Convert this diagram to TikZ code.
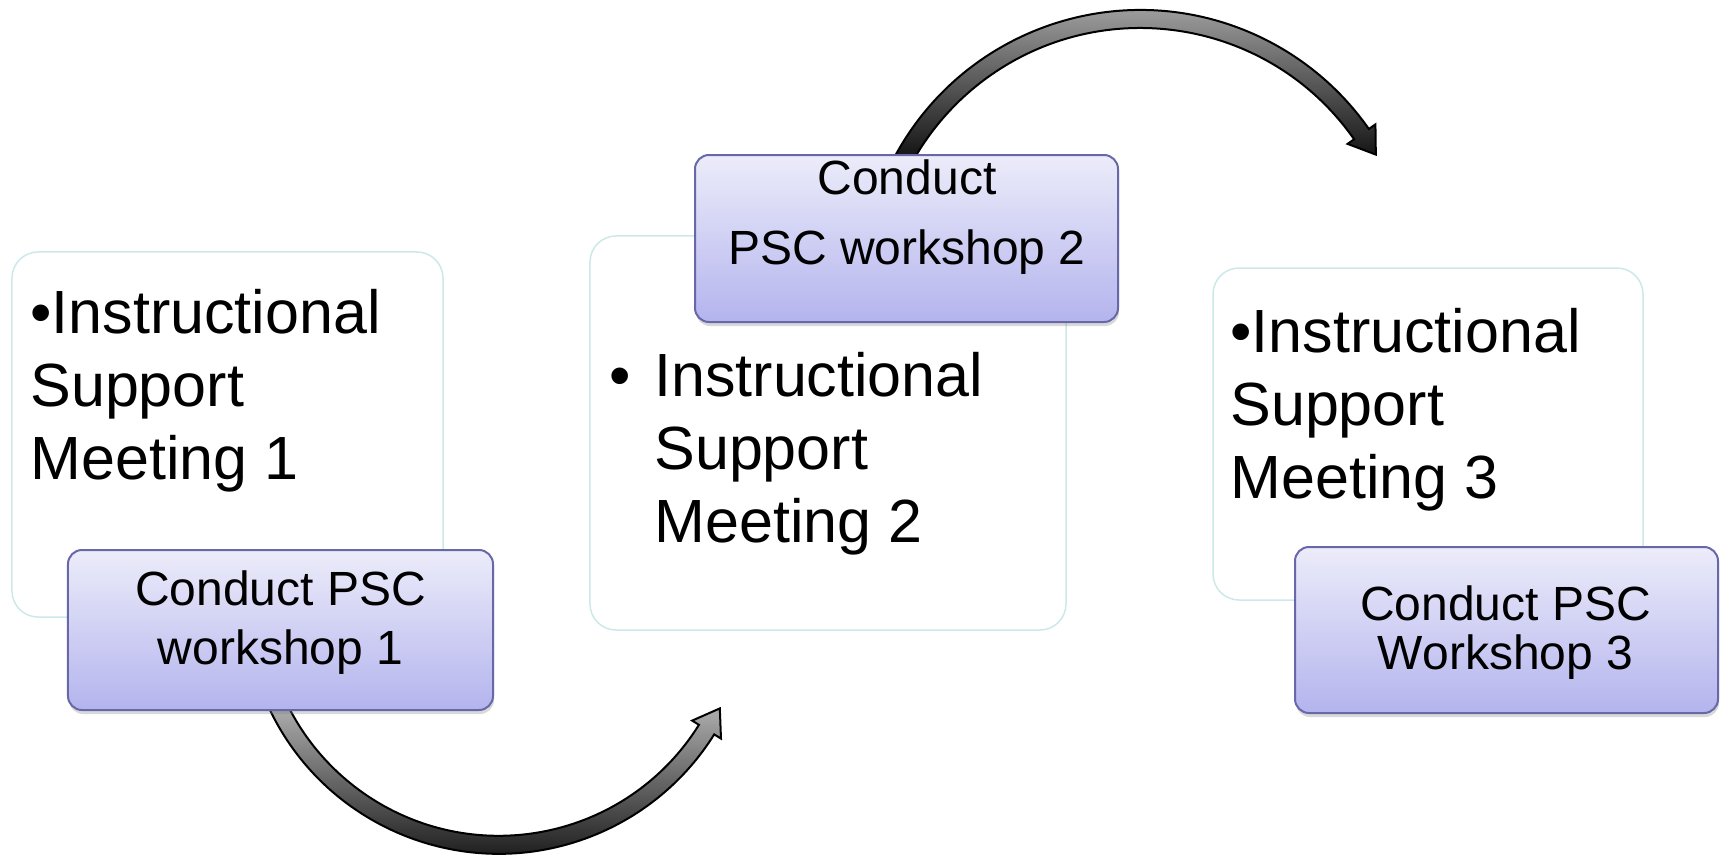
\documentclass[tikz,border=0pt]{standalone}
\usepackage{fontspec}
\setmainfont{Liberation Sans}
\usetikzlibrary{calc,shadows,backgrounds}
\definecolor{mtgline}{RGB}{205,232,232}
\definecolor{wstop}{RGB}{236,236,250}
\definecolor{wsbot}{RGB}{180,180,238}
\definecolor{wsline}{RGB}{104,104,168}
\begin{document}
\begin{tikzpicture}[x=0.5bp,y=-0.5bp,
  meetingbox/.style={draw=mtgline,line width=0.75bp,fill=white,rounded corners=13bp,inner sep=0pt},
  workshopbox/.style={draw=wsline,line width=1bp,top color=wstop,bottom color=wsbot,rounded corners=7bp,inner sep=0pt,
    drop shadow={shadow xshift=0.5bp,shadow yshift=-2bp,opacity=0.3}},
  meetingtext/.style={inner sep=0pt,anchor=north west,align=left,font=\fontsize{30.5bp}{36.5bp}\selectfont},
  workshoptext/.style={inner sep=0pt,anchor=north,align=center},
  bandarrow/.style={draw=black,line width=1bp,top color=black!25,bottom color=black}]
  \useasboundingbox (0,0) rectangle (1723,855);
%%
  % Node: meeting_one
  \node[meetingbox,minimum width=215.5bp,minimum height=182.5bp] (meeting_one) at (227.5,434.5) {};
  \node[meetingtext] (meeting_one_text) at (30,289) {•Instructional\\Support\\Meeting 1};
  % Node: meeting_two
  \node[meetingbox,minimum width=238bp,minimum height=197bp] (meeting_two) at (828,433) {};
  \node[meetingtext] (meeting_two_text) at (654,352) {\llap{•\hspace{12bp}}Instructional\\Support\\Meeting 2};
  % Node: meeting_three
  \node[meetingbox,minimum width=215bp,minimum height=166bp] (meeting_three) at (1428,434) {};
  \node[meetingtext] (meeting_three_text) at (1230,308) {•Instructional\\Support\\Meeting 3};
  % Node: workshop_one
  \node[workshopbox,minimum width=212.5bp,minimum height=80bp] (workshop_one) at (280.5,630) {};
  \node[workshoptext,font=\fontsize{24bp}{29.5bp}\selectfont] (workshop_one_text) at (280.5,570) {Conduct PSC\\workshop 1};
  % Node: workshop_two
  \node[workshopbox,minimum width=211.5bp,minimum height=83.5bp] (workshop_two) at (906.5,238.5) {};
  \node[workshoptext,font=\fontsize{24bp}{35bp}\selectfont] (workshop_two_text) at (907,159) {Conduct\\PSC workshop 2};
  % Node: workshop_three
  \node[workshopbox,minimum width=211.5bp,minimum height=83bp] (workshop_three) at (1506.5,630) {};
  \node[workshoptext,font=\fontsize{24bp}{24.5bp}\selectfont] (workshop_three_text) at (1505.5,585) {Conduct PSC\\Workshop 3};
%
\begin{scope}[on background layer]
  % Edge: workshop_one -> meeting_two
  \coordinate (hub_one) at ($(workshop_one.south)+(153:-245)$);
  \path[bandarrow] ($(hub_one)+(158:254)$) arc[start angle=158,end angle=32,radius=254]
    -- ($(hub_one)+(32:262)$) -- ($(hub_one)+(32:245)+(-58:25)$)
    -- ($(hub_one)+(32:228)$) -- ($(hub_one)+(32:236)$)
    arc[start angle=32,end angle=158,radius=236] -- cycle;
  % Edge: workshop_two -> meeting_three
  \coordinate (hub_two) at ($(workshop_two.north)+(-150:-270)$);
  \path[bandarrow] ($(hub_two)+(-155:279)$) arc[start angle=-155,end angle=-35,radius=279]
    -- ($(hub_two)+(-35:287)$) -- ($(hub_two)+(-35:270)+(55:25)$)
    -- ($(hub_two)+(-35:253)$) -- ($(hub_two)+(-35:261)$)
    arc[start angle=-35,end angle=-155,radius=261] -- cycle;
\end{scope}
%
\end{tikzpicture}
\end{document}
